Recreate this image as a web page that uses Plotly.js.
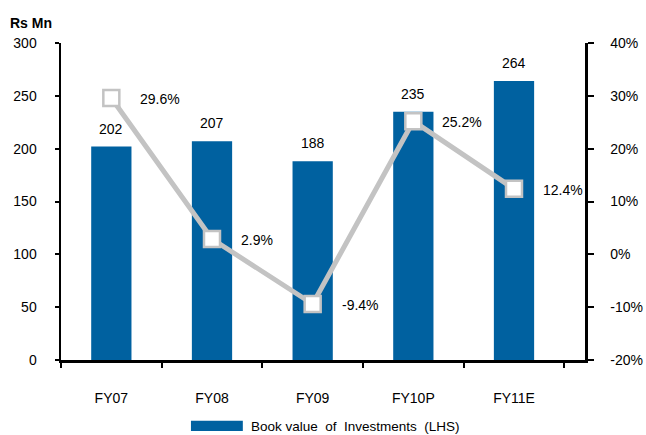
<!DOCTYPE html>
<html>
<head>
<meta charset="utf-8">
<script src="https://cdn.plot.ly/plotly-3.0.1.min.js"></script>
<style>html,body{margin:0;padding:0;background:#fff;}#chart{width:646px;height:435px;}</style>
</head>
<body>
<div id="chart"></div>
<script>
const categories = ["FY07", "FY08", "FY09", "FY10P", "FY11E"];
const bookValue = [202, 207, 188, 235, 264];
const growthPct = [29.6, 2.9, -9.4, 25.2, 12.4];
const leftTicks = [0, 50, 100, 150, 200, 250, 300];
const rightTicks = [-20, -10, 0, 10, 20, 30, 40];
const rightTickLabels = ["-20%", "-10%", "0%", "10%", "20%", "30%", "40%"];
const legendLabel = "Book value  of  Investments  (LHS)";

const FONT = "Liberation Sans, Arial, sans-serif";
const BLUE = "#0061A0";
const GRAY = "#C3C3C3";

const bars = {
  type: "bar", x: categories, y: bookValue, width: 0.4,
  marker: {color: BLUE}, name: legendLabel, hoverinfo: "skip"
};
const line = {
  type: "scatter", mode: "lines+markers", x: categories, y: growthPct, yaxis: "y2",
  line: {color: GRAY, width: 5},
  marker: {symbol: "square", size: 16, color: "#ffffff", line: {color: GRAY, width: 2.5}},
  hoverinfo: "skip", cliponaxis: false
};

const annotations = [];
categories.forEach((c, i) => {
  annotations.push({x: c, y: bookValue[i], xref: "x", yref: "y", text: String(bookValue[i]),
    showarrow: false, yshift: 18, font: {family: FONT, size: 14, color: "#000"}});
  annotations.push({x: c, y: growthPct[i], xref: "x", yref: "y2", text: growthPct[i].toFixed(1) + "%",
    showarrow: false, xanchor: "left", xshift: 27, yshift: -1, font: {family: FONT, size: 14, color: "#000"}});
});
annotations.push({xref: "paper", yref: "paper", x: 0.359, y: -0.211, xanchor: "left", yanchor: "middle",
  text: legendLabel, showarrow: false, font: {family: FONT, size: 13.5, color: "#000"}});

const layout = {
  width: 646, height: 435,
  margin: {l: 61, r: 61, t: 43, b: 75, autoexpand: false},
  paper_bgcolor: "#fff", plot_bgcolor: "#fff",
  showlegend: false,
  font: {family: FONT, size: 14, color: "#000"},
  title: {text: "<b>Rs Mn</b>", xref: "container", yref: "container", x: 10/646, xanchor: "left",
    y: 1 - 23/435, yanchor: "middle", automargin: false, font: {family: FONT, size: 14, color: "#000"}},
  xaxis: {
    type: "category", automargin: false, showgrid: false, zeroline: false,
    showline: true, linecolor: "#000", linewidth: 2.5,
    ticks: "outside", tickson: "boundaries", ticklen: 5, tickwidth: 2, tickcolor: "#000",
    ticklabelstandoff: 24, tickfont: {family: FONT, size: 14}
  },
  yaxis: {
    range: [0, 300], tickvals: leftTicks, automargin: false, showgrid: false, zeroline: false,
    showline: true, linecolor: "#000", linewidth: 2.5,
    ticks: "outside", ticklen: 4, tickwidth: 2, tickcolor: "#000",
    ticklabelstandoff: 15, tickfont: {family: FONT, size: 14}
  },
  yaxis2: {
    overlaying: "y", side: "right", range: [-20, 40], tickvals: rightTicks, ticktext: rightTickLabels,
    automargin: false, showgrid: false, zeroline: false,
    showline: true, linecolor: "#000", linewidth: 2.5,
    ticks: "outside", ticklen: 6, tickwidth: 2, tickcolor: "#000",
    ticklabelstandoff: 14, tickfont: {family: FONT, size: 14}
  },
  shapes: [{type: "rect", xref: "paper", yref: "paper", x0: 0.248, x1: 0.347, y0: -0.192, y1: -0.224,
    fillcolor: BLUE, line: {width: 0}}],
  annotations: annotations
};

Plotly.newPlot("chart", [bars, line], layout, {staticPlot: true, displayModeBar: false});
</script>
</body>
</html>
